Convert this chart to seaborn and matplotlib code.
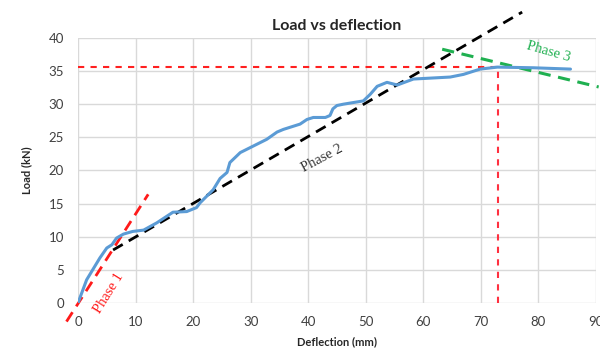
import numpy as np
import pandas as pd
import matplotlib
matplotlib.use("Agg")
import matplotlib.pyplot as plt
import seaborn as sns

# measured load-deflection curve
deflection = [0, 1.5, 3.8, 5.0, 5.9, 6.7, 7.9, 9.5, 11.4, 13.7, 16.5, 18.9, 20.6,
              21.2, 23.5, 24.7, 25.9, 26.4, 28.2, 30.5, 32.8, 34.6, 35.7, 38.6,
              39.8, 40.9, 43.0, 43.8, 44.3, 45.0, 46.1, 49.6, 50.8, 52.0, 53.7,
              55.5, 58.3, 64.7, 67.0, 69.9, 72.9, 79.1, 85.6]
load = [0, 3.5, 6.8, 8.3, 8.8, 9.8, 10.4, 10.8, 11.0, 12.1, 13.7, 13.8, 14.4,
        15.1, 17.1, 18.8, 19.7, 21.2, 22.7, 23.7, 24.7, 25.8, 26.2, 27.0,
        27.7, 28.0, 28.0, 28.3, 29.3, 29.8, 30.0, 30.5, 31.5, 32.7, 33.3,
        32.9, 33.8, 34.1, 34.5, 35.3, 35.6, 35.5, 35.3]

# phase trend lines (end points)
phase1_x = [-2.0, 12.2]
phase1_y = [-2.8, 16.4]
phase2_x = [6.1, 77.2]
phase2_y = [8.0, 43.9]
phase3_x = [63.3, 90.5]
phase3_y = [38.3, 32.6]

# ultimate load marker
ult_x = 73.0
ult_y = 35.6

sns.set_style("whitegrid")
plt.rcParams['font.family'] = ['Lato', 'DejaVu Sans']

fig = plt.figure(figsize=(6, 3.58), dpi=100)
ax = fig.add_axes([0.13, 0.1536, 0.863, 0.7404])

df = pd.DataFrame({"deflection": deflection, "load": load})

ax.plot([0, ult_x], [ult_y, ult_y], color="#ff2020", lw=1.5, ls=(0, (3, 3)), zorder=2)
ax.plot([ult_x, ult_x], [0, ult_y], color="#ff3040", lw=1.5, ls=(0, (3, 3)), zorder=2)

sns.lineplot(x=phase1_x, y=phase1_y, ax=ax, color="#ff1a1a", lw=2,
             linestyle=(0, (4, 2.5)), clip_on=False, zorder=3)
sns.lineplot(x=phase2_x, y=phase2_y, ax=ax, color="black", lw=2,
             linestyle=(0, (4, 2.5)), clip_on=False, zorder=3)
sns.lineplot(x=phase3_x, y=phase3_y, ax=ax, color="#1fb050", lw=2.2,
             linestyle=(0, (4, 2.5)), clip_on=False, zorder=3)

sns.lineplot(data=df, x="deflection", y="load", ax=ax, color="#5b9bd5",
             lw=2.2, sort=False, zorder=4)

ax.set_xlim(0, 90)
ax.set_ylim(0, 40)
ax.set_xticks(range(0, 91, 10))
ax.set_yticks(range(0, 41, 5))
for s in ax.spines.values():
    s.set_visible(False)
ax.grid(True, color="#d9d9d9", lw=1)
ax.tick_params(axis="both", length=0, labelsize=9.5, colors="#404040")
ax.tick_params(axis="x", pad=9)
ax.tick_params(axis="y", pad=10)

serif = ["Liberation Serif", "DejaVu Serif"]
ax.text(5.3, 1.5, "Phase 1", color="#ff1a1a", fontsize=10.5, family=serif,
        rotation=58, ha="center", va="center")
ax.text(42.5, 21.8, "Phase 2", color="#333333", fontsize=10.5, family=serif,
        rotation=28, ha="center", va="center")
ax.text(81.8, 37.9, "Phase 3", color="#1fb050", fontsize=10.5, family=serif,
        rotation=-16, ha="center", va="center")

ax.set_title("Load vs deflection", fontsize=11.5, fontweight="bold", pad=6)
ax.set_xlabel("Deflection (mm)", fontsize=8, fontweight="bold", labelpad=6)
ax.set_ylabel("Load (kN)", fontsize=8, fontweight="bold", labelpad=12)

fig.savefig("out.png", dpi=100)
